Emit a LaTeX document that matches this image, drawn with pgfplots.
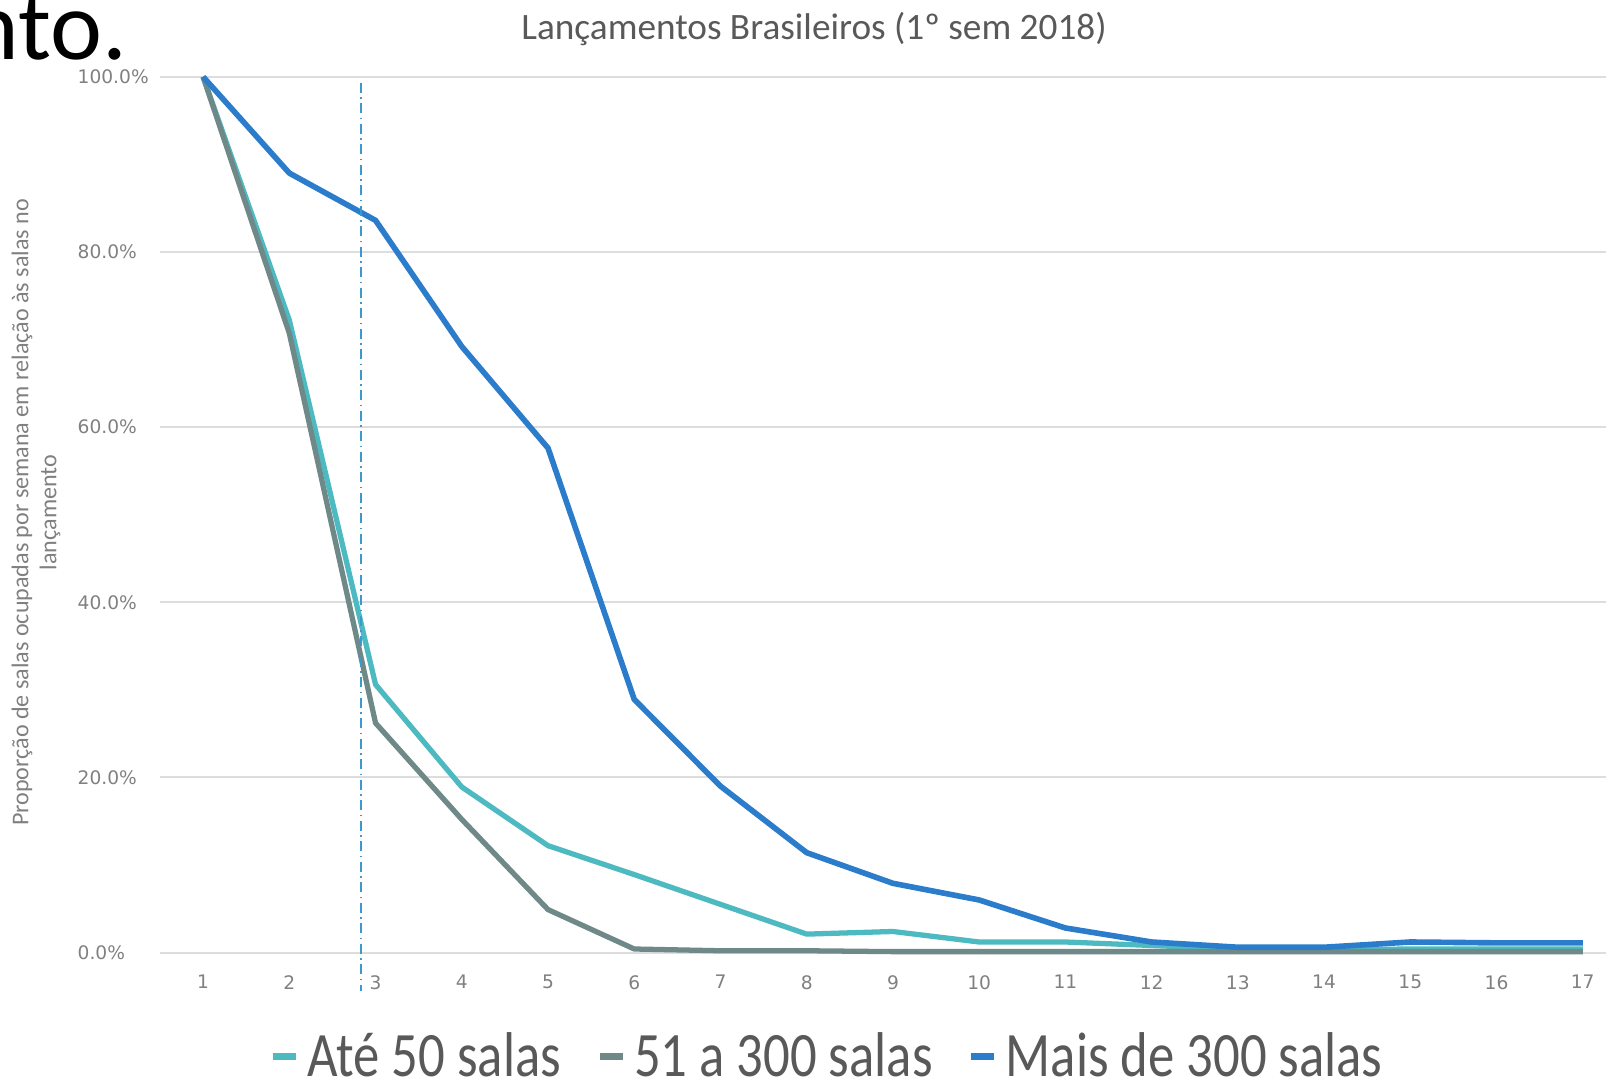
\documentclass[border=0pt]{standalone}
\usepackage{pgfplots}
\pgfplotsset{compat=1.18}
\usepackage{fontspec}
\setmainfont{Carlito}
\newfontfamily\tickfont{DejaVu Sans}

\definecolor{ate}{HTML}{4DBAC2}
\definecolor{mid}{HTML}{6F8888}
\definecolor{mais}{HTML}{2B7CCB}
\definecolor{vline}{HTML}{3A9AD0}
\definecolor{gridc}{HTML}{DDDDDD}
\definecolor{txt}{HTML}{595959}
\definecolor{tickc}{HTML}{808080}

\newcommand{\tall}[1]{\scalebox{1}[1.2]{#1}}

\begin{document}
\begin{tikzpicture}
% 1 px of the reference = 0.1 mm, axis corner at the origin
\path[use as bounding box] (-16mm,-12.45mm) rectangle (144.6mm,95.25mm);
\clip (-16mm,-12.45mm) rectangle (144.6mm,95.25mm);

\begin{axis}[
    at={(0,0)}, anchor=south west,
    scale only axis,
    width=144.6mm, height=87.57mm,
    xmin=0.5, xmax=17.27,
    ymin=0, ymax=100,
    clip=false,
    axis line style={draw=none},
    tick style={draw=none},
    xtick={1,...,17},
    ytick={0,20,...,100},
    yticklabels={0.0\%,20.0\%,40.0\%,60.0\%,80.0\%,100.0\%},
    ymajorgrids,
    grid style={gridc, line width=0.2mm},
    /pgf/number format/assume math mode=true,
    ticklabel style={font=\tickfont\fontsize{5.3}{6}\selectfont, text=tickc, inner sep=0pt},
    yticklabel style={anchor=west, xshift=-8.3mm},
    xticklabel style={anchor=north, yshift=-2.2mm},
    legend style={
        at={(0.463,-0.119)},
        anchor=center,
        draw=none, fill=none,
        legend columns=-1,
        font=\fontsize{15}{16}\selectfont,
        text=txt,
        /tikz/every odd column/.append style={column sep=0.1mm},
        /tikz/every even column/.append style={column sep=2.8mm},
    },
    legend image code/.code={\draw[#1, line width=2pt] (0mm,0mm) -- (2.3mm,0mm);},
]

\addplot[ate, line width=1.5pt, line join=round] coordinates {
(1,100) (2,72.2) (3,30.6) (4,18.9) (5,12.2) (6,8.9) (7,5.5) (8,2.1) (9,2.4)
(10,1.2) (11,1.2) (12,0.8) (13,0.4) (14,0.3) (15,0.4) (16,0.4) (17,0.4)};
\addplot[mid, line width=1.5pt, line join=round] coordinates {
(1,100) (2,70.7) (3,26.2) (4,15.2) (5,4.9) (6,0.4) (7,0.2) (8,0.2) (9,0.1)
(10,0.1) (11,0.1) (12,0.1) (13,0.1) (14,0.1) (15,0.1) (16,0.1) (17,0.1)};
\addplot[mais, line width=1.6pt, line join=round] coordinates {
(1,100) (2,89.0) (3,83.6) (4,69.2) (5,57.6) (6,28.9) (7,19.0) (8,11.4) (9,7.9)
(10,6.0) (11,2.8) (12,1.2) (13,0.6) (14,0.6) (15,1.2) (16,1.1) (17,1.1)};

% dash-dot marker line between weeks 2 and 3
\addplot[vline, line width=0.55pt, dash pattern=on 1mm off 0.45mm on 0.15mm off 0.45mm, forget plot]
    coordinates {(2.83,99.3) (2.83,-4.4)};

\legend{\tall{Até 50 salas}, \tall{51 a 300 salas}, \tall{Mais de 300 salas}}
\end{axis}

\node[text=txt, font=\fontsize{10.6}{12}\selectfont] at (65.4mm,92.3mm)
    {Lançamentos Brasileiros (1º sem 2018)};
\node[text=tickc, rotate=90, align=center, font=\fontsize{6.85}{8}\selectfont]
    at (-12.4mm,44mm)
    {Proporção de salas ocupadas por semana em relação às salas no\\lançamento};
\node[anchor=base east, inner sep=0pt, font=\fontsize{28}{32}\selectfont] at (-3.2mm,89.3mm) {nto.};
\end{tikzpicture}
\end{document}
